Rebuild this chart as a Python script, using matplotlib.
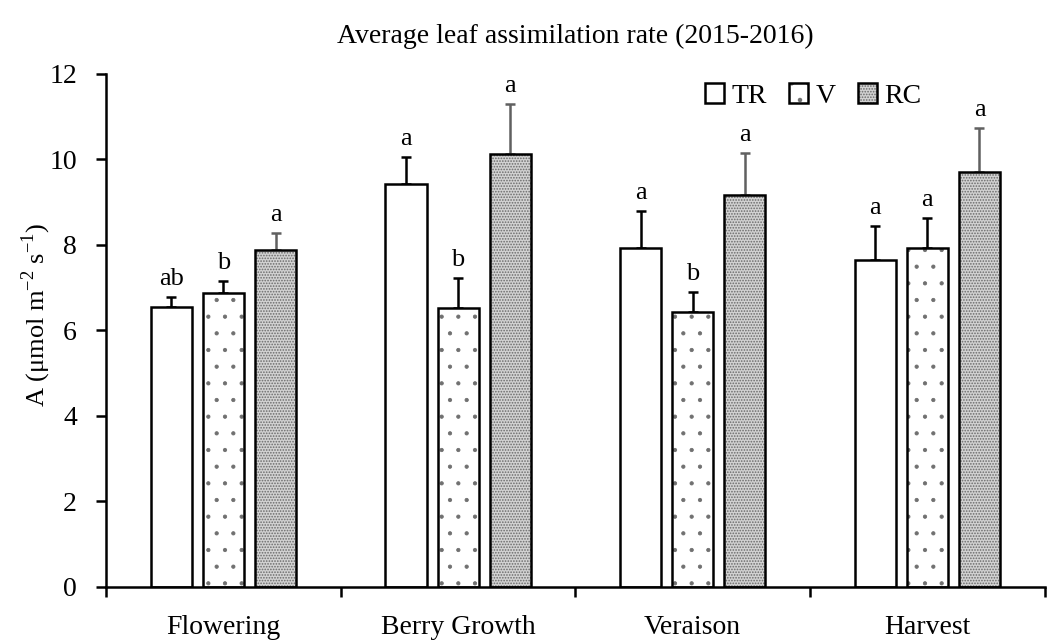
import matplotlib
matplotlib.use("Agg")
import matplotlib.pyplot as plt
from matplotlib.legend_handler import HandlerTuple
import numpy as np

plt.rcParams['font.family'] = ['Liberation Serif', 'DejaVu Serif']
plt.rcParams['mathtext.fontset'] = 'custom'
plt.rcParams['mathtext.rm'] = 'Liberation Serif'

stages = ['Flowering', 'Berry Growth', 'Veraison', 'Harvest']
treatments = ['TR', 'V', 'RC']

tr = [6.55, 9.43, 7.93, 7.65]
tr_err = [0.24, 0.63, 0.87, 0.79]
v = [6.88, 6.53, 6.43, 7.93]
v_err = [0.28, 0.70, 0.47, 0.70]
rc = [7.88, 10.13, 9.17, 9.71]
rc_err = [0.40, 1.17, 0.98, 1.03]

tr_let = ['ab', 'a', 'a', 'a']
v_let = ['b', 'b', 'b', 'a']
rc_let = ['a', 'a', 'a', 'a']

fig = plt.figure(figsize=(10.51, 6.42), dpi=100)
ax = fig.add_axes([0.101, 0.086, 0.893, 0.799])

x = np.arange(len(stages))
w = 0.175
step = 0.222

# (values, errors, letters, face, hatch, hatch colour, hatch lw, error colour)
series = [
    (tr, tr_err, tr_let, 'white', None, 'black', 1.0, 'black'),
    (v, v_err, v_let, 'white', '.', '#707070', 0.6, 'black'),
    (rc, rc_err, rc_let, '#d2d2d2', '......', '#6a6a6a', 0.8, '#606060'),
]

handles = []
for i, (vals, errs, lets, fc, hatch, hc, hlw, errc) in enumerate(series):
    pos = x + (i - 1) * step
    plt.rcParams['hatch.linewidth'] = hlw
    fill = ax.bar(pos, vals, w, color=fc, hatch=hatch, edgecolor=hc,
                  linewidth=0, zorder=2)
    edge = ax.bar(pos, vals, w, fill=False, edgecolor='black', linewidth=1.8,
                  zorder=3)
    handles.append((fill[0], edge[0]))
    ax.errorbar(pos, vals, yerr=[np.zeros(len(vals)), errs], fmt='none',
                ecolor=errc, elinewidth=1.8, capsize=3.8, capthick=1.8, zorder=1)
    for p, val, e, l in zip(pos, vals, errs, lets):
        ax.annotate(l, (p, val + e), xytext=(0, 5), textcoords='offset points',
                    ha='center', va='bottom', fontsize=19)

ax.set_xlim(-0.5, 3.5)
ax.set_ylim(0, 12)
ax.set_yticks(range(0, 13, 2))
ax.set_xticks(x)
ax.set_xticklabels(stages, fontsize=20)
ax.set_xticks(np.arange(-0.5, 4.0, 1.0), minor=True)
ax.tick_params(axis='x', which='major', length=0, pad=20)
ax.tick_params(axis='x', which='minor', length=7, width=1.8, direction='out')
ax.tick_params(axis='y', length=7, width=1.8, labelsize=20, pad=14)
for s in ['top', 'right']:
    ax.spines[s].set_visible(False)
for s in ['left', 'bottom']:
    ax.spines[s].set_linewidth(1.8)

ax.set_ylabel(r'A ($\mathregular{\mu}$mol m$^{\mathregular{-2}}$ s$^{\mathregular{-1}}$)',
              fontsize=19)
ax.yaxis.set_label_coords(-0.057, 0.53)
ax.set_title('Average leaf assimilation rate (2015-2016)', fontsize=20, pad=22)

ax.legend(handles, treatments, loc='upper right', bbox_to_anchor=(0.895, 1.03),
          ncol=3, frameon=False, fontsize=20, handlelength=0.7, handleheight=0.7,
          handletextpad=0.25, columnspacing=0.8,
          handler_map={tuple: HandlerTuple(ndivide=1, pad=0)})

fig.savefig('out.png', dpi=100)
